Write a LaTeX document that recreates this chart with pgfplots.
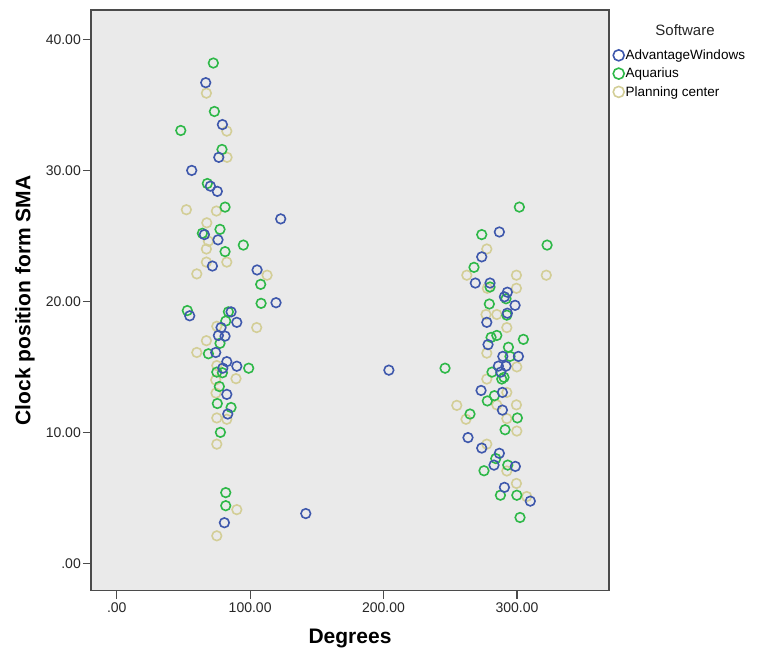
\documentclass[border=0pt]{standalone}
\usepackage{pgfplots}
\pgfplotsset{compat=1.18}
\usepackage{fontspec}
\setmainfont{Liberation Sans}
\definecolor{cblue}{RGB}{62,88,172}
\definecolor{cgreen}{RGB}{46,184,72}
\definecolor{ctan}{RGB}{211,206,151}
\definecolor{plotbg}{RGB}{234,234,234}
\definecolor{framec}{RGB}{75,75,75}
\begin{document}
\begin{tikzpicture}[x=1pt,y=1pt]
\useasboundingbox (0,0) rectangle (760,652);
\begin{axis}[
  at={(91pt,61.3pt)}, anchor=south west,
  scale only axis, width=518pt, height=580.7pt,
  xmin=-19.3, xmax=369, ymin=-2.09, ymax=42.25,
  axis background/.style={fill=plotbg},
  axis line style={framec, line width=1.6pt},
  tick style={framec, line width=1.3pt},
  tick align=outside, major tick length=8pt,
  tick pos=left,
  xtick={0,100,200,300}, xticklabels={.00,100.00,200.00,300.00},
  ytick={0,10,20,30,40}, yticklabels={.00,10.00,20.00,30.00,40.00},
  ticklabel style={font=\fontsize{14}{16}\selectfont, text=black!85},
  yticklabel style={inner sep=2pt},
  xlabel={Degrees}, ylabel={Clock position form SMA},
  every axis x label/.style={at={(axis description cs:0.5,-0.0825)}, anchor=center, font=\bfseries\fontsize{21}{24}\selectfont},
  every axis y label/.style={at={(axis description cs:-0.1274,0.5)}, rotate=90, anchor=center, font=\bfseries\fontsize{21}{24}\selectfont},
  clip=false,
  legend style={at={(axis description cs:1,1)}, anchor=north west, xshift=1pt, yshift=-36pt,
    draw=none, fill=none, font=\fontsize{13.5}{15}\selectfont, row sep=4pt,
    nodes={inner sep=1.5pt}},
  legend cell align=left,
  legend image code/.code={\draw[#1] plot coordinates {(0pt,0pt)};},
]
\addlegendimage{only marks, mark=o, mark size=5.5pt, line width=1.6pt, cblue}
\addlegendentry{AdvantageWindows}
\addlegendimage{only marks, mark=o, mark size=5.5pt, line width=1.6pt, cgreen}
\addlegendentry{Aquarius}
\addlegendimage{only marks, mark=o, mark size=5.5pt, line width=1.6pt, ctan}
\addlegendentry{Planning center}
% Planning center
\addplot[only marks, mark=o, mark size=4.8pt, line width=1.6pt, ctan, forget plot] coordinates {
(67.2,35.9) (82.5,33.0) (82.7,31.0) (52.2,27.0) (74.7,26.9) (67.5,26.0) (68.7,24.6) (67.2,24.0)
(67.2,23.0) (82.5,23.0) (60.0,22.1) (112.7,22.0) (104.9,18.0) (75.0,18.1) (67.2,17.0) (60.0,16.1)
(75.0,15.1) (89.4,14.1) (74.2,14.0) (74.4,13.0) (75.0,11.1) (82.5,11.0) (75.0,9.1) (90.0,4.1) (75.0,2.1)
(277.4,24.0) (262.4,22.0) (299.6,22.0) (322.0,22.0) (277.8,21.0) (299.6,21.0) (276.8,19.0) (284.9,19.0)
(292.4,18.0) (277.4,16.05) (299.9,15.0) (277.4,14.07) (292.4,13.05) (284.9,12.1) (299.6,12.1) (254.9,12.06)
(261.8,11.0) (292.4,11.05) (299.9,10.1) (277.4,9.1) (292.4,7.05) (299.6,6.1) (307.3,5.1)
};
% Aquarius
\addplot[only marks, mark=o, mark size=4.8pt, line width=1.6pt, cgreen, forget plot] coordinates {
(72.4,38.2) (73.2,34.5) (48.0,33.05) (78.9,31.6) (67.9,29.0) (81.2,27.2) (77.4,25.5) (64.2,25.2)
(81.2,23.8) (94.9,24.3) (52.9,19.3) (83.7,19.2) (81.7,18.5) (77.4,16.8) (68.7,16.0) (75.0,14.6)
(79.2,14.55) (76.9,13.5) (75.4,12.2) (85.7,11.9) (77.7,10.0) (81.7,5.4) (81.7,4.4) (107.9,21.3)
(108.2,19.85) (98.9,14.9) (246.1,14.9)
(301.8,27.2) (273.6,25.1) (322.6,24.3) (267.8,22.6) (279.8,21.1) (291.8,20.2) (279.3,19.8) (292.4,18.95)
(284.9,17.4) (280.6,17.25) (304.8,17.1) (293.6,16.5) (294.8,15.8) (281.3,14.6) (288.6,14.07) (290.3,14.2)
(277.8,12.4) (283.1,12.8) (264.8,11.4) (300.3,11.1) (291.1,10.2) (284.1,8.0) (275.3,7.07) (293.1,7.5)
(287.6,5.2) (299.9,5.2) (302.3,3.5)
};
% AdvantageWindows
\addplot[only marks, mark=o, mark size=4.8pt, line width=1.6pt, cblue, forget plot] coordinates {
(66.7,36.7) (79.2,33.5) (76.5,31.0) (56.2,30.0) (70.2,28.8) (75.4,28.4) (65.7,25.1) (75.9,24.7)
(71.7,22.7) (54.7,18.9) (85.7,19.2) (90.0,18.4) (78.2,18.0) (76.2,17.4) (81.2,17.35) (74.2,16.1)
(82.5,15.4) (90.0,15.05) (79.5,14.9) (82.5,12.9) (83.2,11.4) (80.7,3.1) (122.9,26.3) (105.2,22.4)
(119.4,19.9) (141.7,3.8) (204.0,14.75)
(286.8,25.3) (273.6,23.4) (268.8,21.4) (279.8,21.4) (292.8,20.7) (290.6,20.35) (298.6,19.7) (292.8,19.1)
(277.4,18.4) (278.3,16.7) (289.4,15.8) (301.1,15.8) (286.1,15.06) (291.8,15.06) (287.9,14.6) (273.1,13.2)
(289.1,13.05) (289.1,11.7) (263.3,9.6) (273.6,8.8) (286.8,8.4) (282.8,7.5) (298.8,7.4) (290.6,5.8) (310.0,4.75)
};
\end{axis}
\node[anchor=base, font=\fontsize{15}{17}\selectfont, text=black!85] at (685,616) {Software};
\end{tikzpicture}
\end{document}
